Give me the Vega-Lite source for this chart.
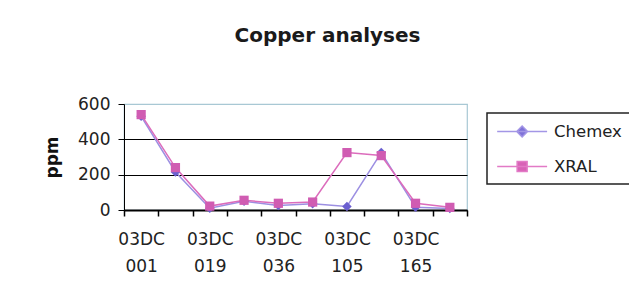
{
  "$schema": "https://vega.github.io/schema/vega-lite/v6.json",
  "width": 343,
  "height": 106,
  "autosize": {"type": "none"},
  "padding": {"left": 124, "top": 104, "right": 162, "bottom": 92},
  "background": "white",
  "title": {
    "text": "Copper analyses",
    "font": "DejaVu Sans",
    "fontSize": 20,
    "fontWeight": "bold",
    "color": "#1a1a1a",
    "anchor": "middle",
    "frame": "group",
    "baseline": "alphabetic",
    "offset": 33,
    "dx": 32
  },
  "data": {
    "values": [
      {"sample": "03DC 001", "series": "Chemex", "ppm": 530},
      {"sample": "03DC 010", "series": "Chemex", "ppm": 215},
      {"sample": "03DC 019", "series": "Chemex", "ppm": 10},
      {"sample": "03DC 027", "series": "Chemex", "ppm": 50},
      {"sample": "03DC 036", "series": "Chemex", "ppm": 25},
      {"sample": "03DC 050", "series": "Chemex", "ppm": 35},
      {"sample": "03DC 105", "series": "Chemex", "ppm": 20},
      {"sample": "03DC 130", "series": "Chemex", "ppm": 325},
      {"sample": "03DC 165", "series": "Chemex", "ppm": 15},
      {"sample": "03DC 180", "series": "Chemex", "ppm": 8},
      {"sample": "03DC 001", "series": "XRAL", "ppm": 540},
      {"sample": "03DC 010", "series": "XRAL", "ppm": 240},
      {"sample": "03DC 019", "series": "XRAL", "ppm": 22},
      {"sample": "03DC 027", "series": "XRAL", "ppm": 55},
      {"sample": "03DC 036", "series": "XRAL", "ppm": 38},
      {"sample": "03DC 050", "series": "XRAL", "ppm": 45},
      {"sample": "03DC 105", "series": "XRAL", "ppm": 325},
      {"sample": "03DC 130", "series": "XRAL", "ppm": 308},
      {"sample": "03DC 165", "series": "XRAL", "ppm": 38},
      {"sample": "03DC 180", "series": "XRAL", "ppm": 15}
    ]
  },
  "encoding": {
    "x": {
      "field": "sample",
      "type": "nominal",
      "sort": null,
      "scale": {"type": "band", "paddingInner": 0, "paddingOuter": 0},
      "axis": {
        "title": null,
        "labelAngle": 0,
        "tickBand": "extent",
        "domainColor": "black",
        "domainWidth": 2,
        "tickColor": "black",
        "tickWidth": 1.5,
        "tickSize": 6,
        "labelFont": "DejaVu Sans",
        "labelFontSize": 17,
        "labelColor": "#222",
        "labelPadding": 15,
        "labelLineHeight": 27,
        "labelBaseline": "top",
        "labelDx": 8,
        "labelExpr": "indexof(['03DC 001','03DC 019','03DC 036','03DC 105','03DC 165'], datum.value) >= 0 ? split(datum.value, ' ') : ''"
      }
    },
    "y": {
      "field": "ppm",
      "type": "quantitative",
      "scale": {"domain": [0, 600], "nice": false},
      "axis": {
        "values": [0, 200, 400, 600],
        "title": "ppm",
        "titleFont": "DejaVu Sans",
        "titleFontSize": 17,
        "titleFontWeight": "bold",
        "titleColor": "#111",
        "titlePadding": 16,
        "labelFont": "DejaVu Sans",
        "labelFontSize": 17,
        "labelColor": "#222",
        "labelPadding": 8,
        "tickColor": "black",
        "tickSize": 6,
        "domainColor": "black",
        "grid": true,
        "gridColor": {"condition": {"test": "datum.value === 600", "value": "#a8c8d4"}, "value": "black"},
        "gridWidth": 1
      }
    }
  },
  "layer": [
    {
      "transform": [{"filter": "datum.series === 'Chemex'"}],
      "mark": {"type": "line", "strokeWidth": 1.5, "color": "#9c8fe2"}
    },
    {
      "transform": [{"filter": "datum.series === 'XRAL'"}],
      "mark": {"type": "line", "strokeWidth": 1.5, "color": "#dc6cbc"}
    },
    {
      "transform": [{"filter": "datum.series === 'Chemex'"}],
      "mark": {"type": "point", "shape": "diamond", "filled": true, "size": 90, "opacity": 1, "color": "#6b5fd0"}
    },
    {
      "transform": [{"filter": "datum.series === 'XRAL'"}],
      "mark": {"type": "point", "shape": "square", "filled": true, "size": 85, "opacity": 1, "color": "#d05cb2"}
    },
    {
      "mark": {"type": "point", "filled": true, "opacity": 0, "size": 277},
      "encoding": {
        "fill": {
          "field": "series",
          "type": "nominal",
          "scale": {"domain": ["Chemex", "XRAL"], "range": ["#7f72d8", "#d862b6"]},
          "title": null
        },
        "stroke": {
          "field": "series",
          "type": "nominal",
          "scale": {"domain": ["Chemex", "XRAL"], "range": ["#a396e6", "#e27ac6"]},
          "title": null
        },
        "shape": {
          "field": "series",
          "type": "nominal",
          "scale": {"domain": ["Chemex", "XRAL"], "range": ["M-1,0H5M2,-0.65L2.65,0L2,0.65L1.35,0Z", "M-1,0H5M1.4,-0.6H2.6V0.6H1.4Z"]},
          "title": null
        }
      }
    }
  ],
  "config": {
    "view": {"stroke": "#a8c8d4", "strokeWidth": 1.2},
    "legend": {
      "orient": "none",
      "legendX": 363,
      "legendY": 9,
      "strokeColor": "#222",
      "strokeWidth": 1.5,
      "padding": 9,
      "symbolOpacity": 1,
      "symbolSize": 277,
      "symbolStrokeWidth": 1.5,
      "labelOffset": 39,
      "labelFont": "DejaVu Sans",
      "labelFontSize": 16.5,
      "labelColor": "#222",
      "rowPadding": 17,
      "fillColor": "white"
    }
  }
}
